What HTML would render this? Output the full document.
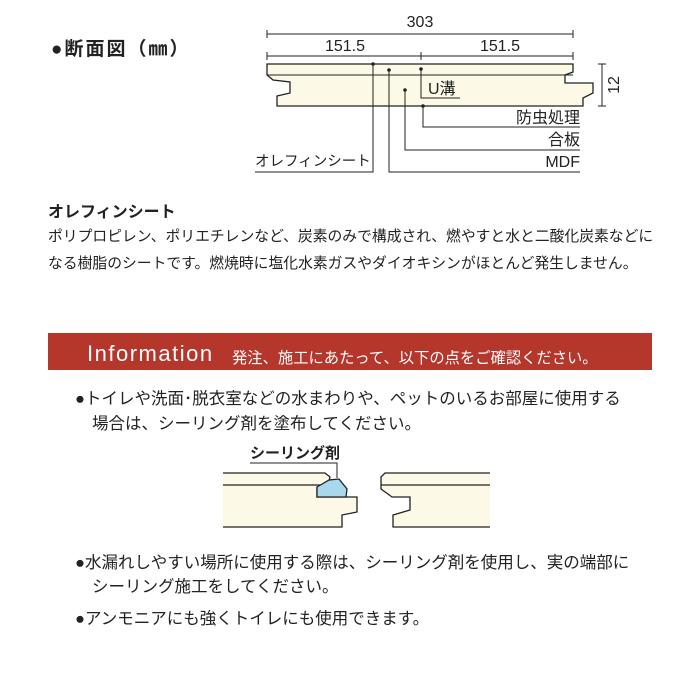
<!DOCTYPE html>
<html><head><meta charset="utf-8"><style>
body{margin:0;width:700px;height:700px;background:#fff;position:relative;overflow:hidden;font-family:"Liberation Sans","Noto Sans CJK JP",sans-serif;color:#222}
.t{position:absolute;white-space:nowrap}
.b{font-size:16.5px}
</style></head><body>
<div class="t" style="left:51px;top:34px;font-size:19px;font-weight:bold;letter-spacing:2px">●断面図（㎜）</div>
<svg width="700" height="700" style="position:absolute;left:0;top:0" font-family="Liberation Sans, Noto Sans CJK JP, sans-serif">
<g stroke="#222" stroke-width="1" fill="none">
<line x1="267" y1="34" x2="573" y2="34"/><line x1="267" y1="30" x2="267" y2="38"/><line x1="573" y1="30" x2="573" y2="38"/>
<line x1="267" y1="56" x2="573" y2="56"/><line x1="267" y1="52" x2="267" y2="60"/><line x1="421" y1="52" x2="421" y2="60"/><line x1="573" y1="52" x2="573" y2="60"/>
<line x1="602" y1="64" x2="602" y2="106"/><line x1="598" y1="64" x2="606" y2="64"/><line x1="598" y1="106" x2="606" y2="106"/>
</g>
<g font-size="16" fill="#222" text-anchor="middle">
<text x="420" y="27">303</text><text x="345" y="51">151.5</text><text x="500" y="51">151.5</text>
<text transform="translate(619,85) rotate(-90)">12</text>
</g>
<polygon points="267,64 573,64 573,72 565,75 565,83 593,83 593,93 583,98 583,106 277,106 277,96 290,93 290,82 273,80 267,75" fill="#fcfae6" stroke="#222" stroke-width="1.3"/>
<line x1="267" y1="75" x2="573" y2="75" stroke="#222" stroke-width="1"/>
<g stroke="#222" stroke-width="1" fill="none">
<polyline points="373,64 373,172 255,172"/>
<polyline points="389,70 389,172 580,172"/>
<polyline points="405,90 405,150 580,150"/>
<polyline points="423,106 423,127 580,127"/>
<polyline points="421,70 421,98 460,98"/>
</g>
<g fill="#222"><circle cx="373" cy="64" r="1.8"/><circle cx="389" cy="70" r="1.8"/><circle cx="405" cy="90" r="1.8"/><circle cx="423" cy="106" r="1.8"/><circle cx="421" cy="69" r="1.8"/></g>
<g font-size="16" fill="#222">
<text x="255" y="166" font-size="14.5">オレフィンシート</text>
<text x="580" y="167" text-anchor="end">MDF</text>
<text x="580" y="145" text-anchor="end">合板</text>
<text x="580" y="123" text-anchor="end">防虫処理</text>
<text x="428" y="94">U溝</text>
</g>
<polygon points="223,473 325,473 330,477 328,485 317,487 317,497 357,497 357,512 342,515 342,527 223,527" fill="#fcfae6"/>
<polygon points="490,473 385,473 381,477 381,489 392,497 410,497 410,510 393,515 393,527 490,527" fill="#fcfae6"/>
<g stroke="#222" stroke-width="1.3" fill="none">
<polyline points="223,473 325,473 330,477 328,485 317,487 317,497 357,497 357,512 342,515 342,527 223,527"/>
<line x1="223" y1="485" x2="328" y2="485"/>
<polyline points="490,473 385,473 381,477 381,489 392,497 410,497 410,510 393,515 393,527 490,527"/>
<line x1="381" y1="485" x2="490" y2="485"/>
</g>
<path d="M317,487 L329,480 L339,479 L347,489 L346,497 L317,497 Z" fill="#a8d8ee" stroke="#222" stroke-width="1.3"/>
<polyline points="250,463 337,463 337,478" stroke="#222" fill="none" stroke-width="1"/>
<text x="250" y="458" font-size="15" font-weight="bold" fill="#222">シーリング剤</text>
</svg>
<div class="t" style="left:48px;top:198px;font-size:16px;font-weight:bold">オレフィンシート</div>
<div class="t" style="left:48px;top:225px;font-size:14.8px">ポリプロピレン、ポリエチレンなど、炭素のみで構成され、燃やすと水と二酸化炭素などに</div>
<div class="t" style="left:48px;top:252px;font-size:14.8px">なる樹脂のシートです。燃焼時に塩化水素ガスやダイオキシンがほとんど発生しません。</div>
<div style="position:absolute;left:48px;top:333px;width:604px;height:37px;background:#b5362b"></div>
<div class="t" style="left:87px;top:341px;font-size:22px;color:#fff;letter-spacing:1.5px">Information</div>
<div class="t" style="left:232px;top:346px;font-size:15.3px;color:#fff">発注、施工にあたって、以下の点をご確認ください。</div>
<div class="t b" style="left:75px;top:385px">●トイレや洗面･脱衣室などの水まわりや、ペットのいるお部屋に使用する</div>
<div class="t b" style="left:92px;top:410px">場合は、シーリング剤を塗布してください。</div>
<div class="t b" style="left:75px;top:549px">●水漏れしやすい場所に使用する際は、シーリング剤を使用し、実の端部に</div>
<div class="t b" style="left:92px;top:573px">シーリング施工をしてください。</div>
<div class="t b" style="left:75px;top:605px">●アンモニアにも強くトイレにも使用できます。</div>
</body></html>
